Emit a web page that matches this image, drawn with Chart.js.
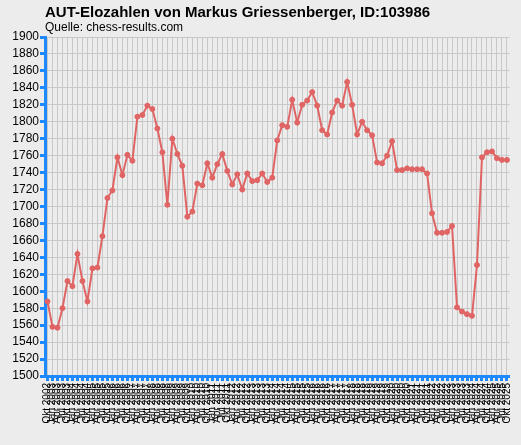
<!DOCTYPE html>
<html>
<head>
<meta charset="utf-8">
<script src="https://cdn.jsdelivr.net/npm/chart.js@4"></script>
<style>
  body { margin: 0; background: #ececec; font-family: 'Liberation Sans', Arial, sans-serif; }
  #wrap { position: relative; width: 521px; height: 445px; }
  #titel { position: absolute; left: 45px; top: 3px; font-size: 15px; font-weight: bold; color: #000; }
  #quelle { position: absolute; left: 45px; top: 20px; font-size: 12px; color: #000; }
  canvas { position: absolute; left: 0; top: 0; }
</style>
</head>
<body>
<div id="wrap">
  <canvas id="c" width="521" height="445"></canvas>
  <div id="titel">AUT-Elozahlen von Markus Griessenberger, ID:103986</div>
  <div id="quelle">Quelle: chess-results.com</div>
</div>
<script>
  // Elo-Werte
  const ELO = [
    1588, 1558, 1557, 1580, 1612, 1606, 1644, 1612, 1588, 1627,
    1628, 1665, 1710, 1719, 1758, 1737, 1761, 1754, 1806, 1808,
    1819, 1815, 1792, 1764, 1702, 1780, 1762, 1748, 1688, 1694,
    1727, 1725, 1751, 1734, 1750, 1762, 1742, 1726, 1738, 1720,
    1739, 1730, 1731, 1739, 1729, 1734, 1778, 1796, 1794, 1826,
    1799, 1820, 1825, 1835, 1819, 1790, 1785, 1811, 1825, 1819,
    1847, 1820, 1785, 1800, 1790, 1784, 1752, 1751, 1760, 1777,
    1743, 1743, 1745, 1744, 1744, 1744, 1739, 1692, 1669, 1669,
    1670, 1677, 1581, 1576, 1573, 1571, 1631, 1758, 1764, 1765,
    1757, 1755, 1755
  ];

  // Quartals-Listen bis Okt 2025
  const MONATE = ['Jan', 'Apr', 'Jul', 'Okt'];
  const DATUM = [];
  for (let i = ELO.length - 1; i >= 0; i--) {
    const q = 2025 * 4 + 3 - i;
    DATUM.push(MONATE[q % 4] + ' ' + Math.floor(q / 4));
  }

  const BLAU = '#1e88ff';
  const ROT = '#e06464';

  new Chart(document.getElementById('c'), {
    type: 'line',
    data: {
      labels: DATUM,
      datasets: [{
        data: ELO,
        borderColor: ROT,
        backgroundColor: ROT,
        borderWidth: 2,
        pointRadius: 2.5,
        pointBorderWidth: 1,
        tension: 0
      }]
    },
    options: {
      responsive: false,
      animation: false,
      layout: { padding: { top: 37, right: 8 } },
      plugins: { legend: { display: false }, tooltip: { enabled: false } },
      scales: {
        y: {
          min: 1500, max: 1900,
          afterFit: function (s) { s.width = 45; },
          border: { color: BLAU, width: 3 },
          grid: { color: '#c8c8c8', tickColor: BLAU, tickLength: 5, tickWidth: 3 },
          ticks: {
            stepSize: 20, autoSkip: false, color: '#000', padding: 1,
            font: { family: "'Liberation Sans', Arial", size: 12 },
            callback: function (v) { return String(v); }
          }
        },
        x: {
          offset: true,
          afterFit: function (s) { s.height = 69; },
          border: { color: BLAU, width: 3 },
          grid: { offset: false, color: '#c8c8c8', tickColor: BLAU, tickLength: 5, tickWidth: 3 },
          ticks: {
            autoSkip: false, minRotation: 90, maxRotation: 90, color: '#000', padding: 2,
            font: { family: "'Liberation Sans', Arial", size: 10 }
          }
        }
      }
    }
  });
</script>
</body>
</html>
